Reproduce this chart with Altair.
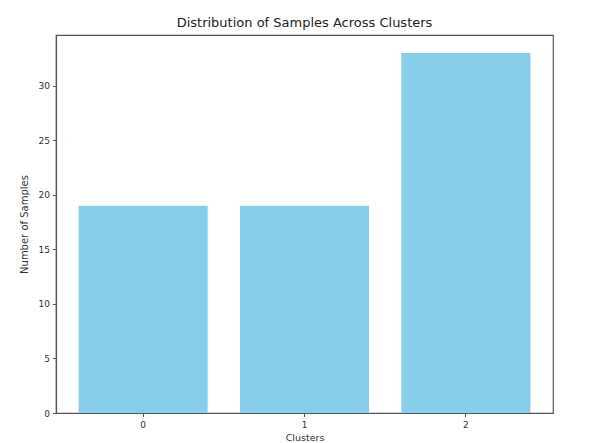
import altair as alt
import pandas as pd

clusters = ["0", "1", "2"]
counts = [19, 19, 33]

df = pd.DataFrame({"Cluster": clusters, "Count": counts})

font = "DejaVu Sans"

chart = alt.Chart(df).mark_bar(color="#87CEEB").encode(
    x=alt.X(
        "Cluster:N",
        sort=clusters,
        scale=alt.Scale(paddingInner=0.2, paddingOuter=0.14),
        axis=alt.Axis(
            title="Clusters",
            labelAngle=0,
            grid=False,
            tickSize=3.5,
            labelPadding=4,
            titlePadding=3,
            labelFontSize=9,
            titleFontSize=9.5,
            titleFontWeight="normal",
        ),
    ),
    y=alt.Y(
        "Count:Q",
        scale=alt.Scale(domain=[0, 34.65], nice=False, zero=True),
        axis=alt.Axis(
            title="Number of Samples",
            values=[0, 5, 10, 15, 20, 25, 30],
            grid=False,
            tickSize=3.5,
            labelPadding=3,
            titlePadding=9,
            labelFontSize=9,
            titleFontSize=10,
            titleFontWeight="normal",
        ),
    ),
).properties(
    width=497,
    height=378,
    title=alt.TitleParams(
        "Distribution of Samples Across Clusters",
        fontSize=13,
        fontWeight="normal",
        font=font,
        color="#222",
        offset=5,
    ),
    autosize=alt.AutoSizeParams(type="none"),
    padding={"left": 48, "top": 27, "right": 33, "bottom": 30},
).configure_view(
    stroke="#555",
    strokeWidth=1.2,
).configure_axis(
    labelFont=font,
    titleFont=font,
    labelColor="#333",
    titleColor="#333",
    domainColor="#555",
    tickColor="#555",
    domainWidth=1.2,
    tickWidth=1,
)

chart.save("out.html", embed_options={"renderer": "svg", "actions": False})
